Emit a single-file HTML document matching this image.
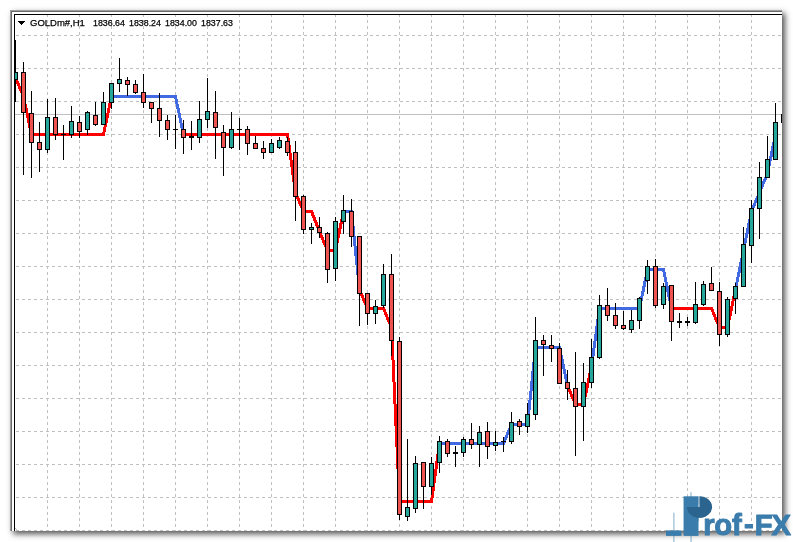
<!DOCTYPE html>
<html lang="en"><head><meta charset="utf-8"><title>GOLDm#,H1</title>
<style>
html,body{margin:0;padding:0;background:#fff;}
body{width:793px;height:542px;position:relative;overflow:hidden;font-family:"Liberation Sans",sans-serif;}
.shadow{position:absolute;left:10px;top:10px;width:772px;height:521px;background:#fff;box-shadow:3px 3px 6px rgba(0,0,0,.68);}
svg{position:absolute;left:0;top:0;display:block;}
.title{position:absolute;top:17px;left:0;height:12px;line-height:12px;font-size:9.2px;color:#000;white-space:pre;}
.title span{position:absolute;top:0;transform-origin:0 0;transform:scaleX(.962);-webkit-text-stroke:.25px #000;}
</style></head>
<body>
<div class="shadow"></div>
<svg width="793" height="542" viewBox="0 0 793 542" shape-rendering="crispEdges">
<defs><clipPath id="cp"><rect x="15" y="15" width="767" height="516"/></clipPath></defs>
<rect x="10" y="10" width="772" height="521" fill="#fff"/>
<rect x="10" y="10" width="772" height="1" fill="#a0a0a0"/><rect x="10" y="11" width="772" height="1" fill="#696969"/>
<rect x="10" y="10" width="1" height="521" fill="#a0a0a0"/><rect x="11" y="11" width="1" height="520" fill="#696969"/>
<rect x="14" y="14" width="768" height="1" fill="#000"/><rect x="14" y="14" width="1" height="517" fill="#000"/>
<g clip-path="url(#cp)">
<path d="M47.5 14v517 M79.5 14v517 M111.5 14v517 M143.5 14v517 M175.5 14v517 M207.5 14v517 M239.5 14v517 M271.5 14v517 M303.5 14v517 M335.5 14v517 M367.5 14v517 M399.5 14v517 M431.5 14v517 M463.5 14v517 M495.5 14v517 M527.5 14v517 M559.5 14v517 M591.5 14v517 M623.5 14v517 M655.5 14v517 M687.5 14v517 M719.5 14v517 M751.5 14v517" stroke="#c0c0c0" stroke-width="1" fill="none" stroke-dasharray="3 3" stroke-dashoffset="0"/>
<path d="M16 35.5h766 M16 68.5h766 M16 101.5h766 M16 134.5h766 M16 167.5h766 M16 200.5h766 M16 233.5h766 M16 266.5h766 M16 299.5h766 M16 332.5h766 M16 365.5h766 M16 398.5h766 M16 431.5h766 M16 464.5h766 M16 497.5h766 M16 530.5h766" stroke="#c0c0c0" stroke-width="1" fill="none" stroke-dasharray="3 3"/>
<rect x="15" y="114" width="767" height="1" fill="#c0c0c0"/>
<polyline points="15.5,77.5 23.5,96.5 31.5,134.5 39.5,134.5 47.5,134.5 55.5,134.5 63.5,134.5 71.5,134.5 79.5,134.5 87.5,134.5 95.5,134.5 103.5,134.5 111.5,96.5" fill="none" stroke="#ff0000" stroke-width="3" stroke-linejoin="round" stroke-linecap="round"/>
<polyline points="111.5,96.5 119.5,96.5 127.5,96.5 135.5,96.5 143.5,96.5 151.5,96.5 159.5,96.5 167.5,96.5 175.5,96.5 183.5,134.5" fill="none" stroke="#4169e1" stroke-width="3" stroke-linejoin="round" stroke-linecap="round"/>
<polyline points="183.5,134.5 191.5,134.5 199.5,134.5 207.5,134.5 215.5,134.5 223.5,134.5 231.5,134.5 239.5,134.5 247.5,134.5 255.5,134.5 263.5,134.5 271.5,134.5 279.5,134.5 287.5,134.5 295.5,192.5 303.5,211.5 311.5,211.5 319.5,231.5 327.5,250.5 335.5,250.5 343.5,211.5" fill="none" stroke="#ff0000" stroke-width="3" stroke-linejoin="round" stroke-linecap="round"/>
<polyline points="343.5,211.5 351.5,211.5 359.5,289.5" fill="none" stroke="#4169e1" stroke-width="3" stroke-linejoin="round" stroke-linecap="round"/>
<polyline points="359.5,289.5 367.5,308.5 375.5,308.5 383.5,308.5 391.5,327.5 399.5,501.5 407.5,501.5 415.5,501.5 423.5,501.5 431.5,501.5 439.5,443.5" fill="none" stroke="#ff0000" stroke-width="3" stroke-linejoin="round" stroke-linecap="round"/>
<polyline points="439.5,443.5 447.5,443.5 455.5,443.5 463.5,443.5 471.5,443.5 479.5,443.5 487.5,443.5 495.5,443.5 503.5,443.5 511.5,424.5 519.5,424.5 527.5,424.5 535.5,347.5 543.5,347.5 551.5,347.5 559.5,347.5 567.5,385.5" fill="none" stroke="#4169e1" stroke-width="3" stroke-linejoin="round" stroke-linecap="round"/>
<polyline points="567.5,385.5 575.5,404.5 583.5,404.5 591.5,366.5" fill="none" stroke="#ff0000" stroke-width="3" stroke-linejoin="round" stroke-linecap="round"/>
<polyline points="591.5,366.5 599.5,308.5 607.5,308.5 615.5,308.5 623.5,308.5 631.5,308.5 639.5,308.5 647.5,269.5 655.5,269.5 663.5,269.5 671.5,308.5" fill="none" stroke="#4169e1" stroke-width="3" stroke-linejoin="round" stroke-linecap="round"/>
<polyline points="671.5,308.5 679.5,308.5 687.5,308.5 695.5,308.5 703.5,308.5 711.5,308.5 719.5,327.5 727.5,327.5 735.5,289.5" fill="none" stroke="#ff0000" stroke-width="3" stroke-linejoin="round" stroke-linecap="round"/>
<polyline points="735.5,289.5 743.5,250.5 751.5,211.5 759.5,192.5 767.5,173.5 775.5,134.5" fill="none" stroke="#4169e1" stroke-width="3" stroke-linejoin="round" stroke-linecap="round"/>
<path d="M15 40h1v62h-1zM23 62h1v113h-1zM31 91h1v87h-1zM39 122h1v50h-1zM47 99h1v54h-1zM55 98h1v42h-1zM63 125h1v35h-1zM71 106h1v32h-1zM79 116h1v22h-1zM87 111h1v24h-1zM95 102h1v24h-1zM103 92h1v33h-1zM111 83h1v26h-1zM119 58h1v34h-1zM127 77h1v19h-1zM135 80h1v14h-1zM143 74h1v34h-1zM151 102h1v21h-1zM159 93h1v44h-1zM167 115h1v25h-1zM175 115h1v34h-1zM183 120h1v34h-1zM191 121h1v29h-1zM199 101h1v42h-1zM207 78h1v50h-1zM215 91h1v68h-1zM223 125h1v51h-1zM231 112h1v37h-1zM239 118h1v32h-1zM247 126h1v29h-1zM255 136h1v13h-1zM263 141h1v18h-1zM271 139h1v14h-1zM279 137h1v12h-1zM287 137h1v19h-1zM295 141h1v80h-1zM303 195h1v39h-1zM311 223h1v21h-1zM319 217h1v21h-1zM327 232h1v51h-1zM335 217h1v64h-1zM343 195h1v39h-1zM351 199h1v48h-1zM359 236h1v90h-1zM367 293h1v32h-1zM375 300h1v24h-1zM383 264h1v44h-1zM391 254h1v102h-1zM399 337h1v183h-1zM407 439h1v82h-1zM415 456h1v57h-1zM423 462h1v47h-1zM431 457h1v38h-1zM439 436h1v37h-1zM447 439h1v18h-1zM455 446h1v21h-1zM463 437h1v20h-1zM471 423h1v26h-1zM479 426h1v41h-1zM487 422h1v37h-1zM495 431h1v20h-1zM503 437h1v15h-1zM511 412h1v32h-1zM519 419h1v16h-1zM527 403h1v30h-1zM535 317h1v103h-1zM543 335h1v41h-1zM551 335h1v27h-1zM559 343h1v41h-1zM567 370h1v30h-1zM575 352h1v104h-1zM583 363h1v78h-1zM591 339h1v49h-1zM599 295h1v64h-1zM607 288h1v33h-1zM615 303h1v26h-1zM623 311h1v19h-1zM631 310h1v23h-1zM639 297h1v32h-1zM647 260h1v34h-1zM655 259h1v49h-1zM663 283h1v26h-1zM671 285h1v56h-1zM679 313h1v15h-1zM687 317h1v9h-1zM695 282h1v42h-1zM703 281h1v25h-1zM711 267h1v24h-1zM719 282h1v64h-1zM727 297h1v40h-1zM735 283h1v31h-1zM743 227h1v60h-1zM751 200h1v63h-1zM759 162h1v77h-1zM767 136h1v42h-1zM775 103h1v57h-1zM13 72h5v8h-5zM21 72h5v41h-5zM29 113h5v30h-5zM37 142h5v8h-5zM45 117h5v33h-5zM53 117h5v18h-5zM61 134h5v1h-5zM69 121h5v14h-5zM77 122h5v10h-5zM85 112h5v18h-5zM93 115h5v10h-5zM101 102h5v23h-5zM109 83h5v20h-5zM117 79h5v5h-5zM125 80h5v5h-5zM133 84h5v9h-5zM141 92h5v11h-5zM149 102h5v7h-5zM157 108h5v13h-5zM165 120h5v10h-5zM173 129h5v1h-5zM181 129h5v9h-5zM189 136h5v2h-5zM197 119h5v19h-5zM205 111h5v9h-5zM213 112h5v16h-5zM221 132h5v16h-5zM229 129h5v19h-5zM237 129h5v1h-5zM245 129h5v15h-5zM253 143h5v6h-5zM261 148h5v5h-5zM269 143h5v10h-5zM277 140h5v8h-5zM285 141h5v12h-5zM293 152h5v45h-5zM301 196h5v34h-5zM309 227h5v3h-5zM317 227h5v6h-5zM325 233h5v37h-5zM333 221h5v48h-5zM341 210h5v12h-5zM349 211h5v26h-5zM357 236h5v58h-5zM365 293h5v21h-5zM373 306h5v8h-5zM381 274h5v32h-5zM389 274h5v67h-5zM397 341h5v174h-5zM405 507h5v10h-5zM413 463h5v46h-5zM421 462h5v25h-5zM429 463h5v24h-5zM437 441h5v22h-5zM445 441h5v13h-5zM453 452h5v2h-5zM461 439h5v14h-5zM469 439h5v6h-5zM477 432h5v13h-5zM485 431h5v16h-5zM493 442h5v4h-5zM501 441h5v1h-5zM509 422h5v20h-5zM517 421h5v6h-5zM525 414h5v13h-5zM533 340h5v75h-5zM541 340h5v5h-5zM549 345h5v4h-5zM557 348h5v36h-5zM565 382h5v7h-5zM573 388h5v19h-5zM581 382h5v25h-5zM589 357h5v26h-5zM597 305h5v53h-5zM605 305h5v11h-5zM613 315h5v11h-5zM621 325h5v4h-5zM629 320h5v10h-5zM637 298h5v23h-5zM645 266h5v15h-5zM653 266h5v40h-5zM661 286h5v19h-5zM669 285h5v37h-5zM677 321h5v2h-5zM685 321h5v2h-5zM693 304h5v19h-5zM701 284h5v21h-5zM709 283h5v8h-5zM717 291h5v44h-5zM725 299h5v36h-5zM733 286h5v13h-5zM741 244h5v43h-5zM749 208h5v38h-5zM757 177h5v32h-5zM765 159h5v19h-5zM773 122h5v38h-5zM781 114h5v9h-5z" fill="#000"/>
<path d="M14 73h3v6h-3zM46 118h3v31h-3zM70 122h3v12h-3zM86 113h3v16h-3zM102 103h3v21h-3zM110 84h3v18h-3zM118 80h3v3h-3zM198 120h3v17h-3zM206 112h3v7h-3zM230 130h3v17h-3zM270 144h3v8h-3zM278 141h3v6h-3zM310 228h3v1h-3zM334 222h3v46h-3zM342 211h3v10h-3zM374 307h3v6h-3zM382 275h3v30h-3zM406 508h3v8h-3zM414 464h3v44h-3zM430 464h3v22h-3zM438 442h3v20h-3zM462 440h3v12h-3zM478 433h3v11h-3zM494 443h3v2h-3zM510 423h3v18h-3zM526 415h3v11h-3zM534 341h3v73h-3zM582 383h3v23h-3zM590 358h3v24h-3zM598 306h3v51h-3zM630 321h3v8h-3zM638 299h3v21h-3zM646 267h3v13h-3zM662 287h3v17h-3zM694 305h3v17h-3zM702 285h3v19h-3zM726 300h3v34h-3zM734 287h3v11h-3zM742 245h3v41h-3zM750 209h3v36h-3zM758 178h3v30h-3zM766 160h3v17h-3zM774 123h3v36h-3z" fill="#26a69a"/>
<path d="M22 73h3v39h-3zM30 114h3v28h-3zM38 143h3v6h-3zM54 118h3v16h-3zM78 123h3v8h-3zM94 116h3v8h-3zM126 81h3v3h-3zM134 85h3v7h-3zM142 93h3v9h-3zM150 103h3v5h-3zM158 109h3v11h-3zM166 121h3v8h-3zM182 130h3v7h-3zM214 113h3v14h-3zM222 133h3v14h-3zM246 130h3v13h-3zM254 144h3v4h-3zM262 149h3v3h-3zM286 142h3v10h-3zM294 153h3v43h-3zM302 197h3v32h-3zM318 228h3v4h-3zM326 234h3v35h-3zM350 212h3v24h-3zM358 237h3v56h-3zM366 294h3v19h-3zM390 275h3v65h-3zM398 342h3v172h-3zM422 463h3v23h-3zM446 442h3v11h-3zM470 440h3v4h-3zM486 432h3v14h-3zM518 422h3v4h-3zM542 341h3v3h-3zM550 346h3v2h-3zM558 349h3v34h-3zM566 383h3v5h-3zM574 389h3v17h-3zM606 306h3v9h-3zM614 316h3v9h-3zM622 326h3v2h-3zM654 267h3v38h-3zM670 286h3v35h-3zM710 284h3v6h-3zM718 292h3v42h-3z" fill="#ef5350"/>
<path d="M18 21h7v1h-1v1h-1v1h-1v1h-1v-1h-1v-1h-1v-1h-1z" fill="#000"/>
<path d="M15 528h1v1h1v1h-1v-1h-1z" fill="#c0c0c0"/>
</g>
</svg>
<div class="title"><span style="left:29.8px;transform:scaleX(1.033)">GOLDm#,H1</span><span style="left:92.6px">1836.64</span><span style="left:129.1px">1838.24</span><span style="left:165.1px">1834.00</span><span style="left:201.1px">1837.63</span></div>
<svg class="logo" width="793" height="542" viewBox="0 0 793 542" role="img" aria-label="Prof-FX">
<defs><clipPath id="pc"><rect x="683.7" y="496.3" width="14.8" height="39.6"/><ellipse cx="699.3" cy="507" rx="13" ry="10.8"/></clipPath></defs>
<rect x="673.1" y="512.7" width="1.5" height="30" fill="#3a7cab" opacity=".42"/>
<rect x="690.3" y="492.2" width="1.5" height="50" fill="#3a7cab" opacity=".42"/>
<rect x="666" y="530.4" width="15.4" height="5.5" fill="#3a7cab"/>
<rect x="683.6" y="496.3" width="14.9" height="39.6" fill="#3a7cab"/>
<g clip-path="url(#pc)"><text transform="translate(681 535.2) scale(.76 1)" font-family="'Liberation Sans', sans-serif" font-weight="bold" font-size="55" fill="#3a7cab">P</text></g>
<path d="M699.3 507 V496.2 A12.6 10.8 0 1 1 686.9 507 Z" fill="#2b648f"/>
<rect x="698.2" y="496.3" width="1.5" height="10.7" fill="#9ab5cc"/>
<text x="703.3 714.3 732 743.9 754.7 771.6" y="535.2" dy="0 0 0 -1.3 1.3 0" font-family="'Liberation Sans', sans-serif" font-weight="bold" font-size="29.2" fill="#3a7cab" stroke="#3a7cab" stroke-width="1" stroke-linejoin="round">rof-FX</text>
</svg>
</body></html>
